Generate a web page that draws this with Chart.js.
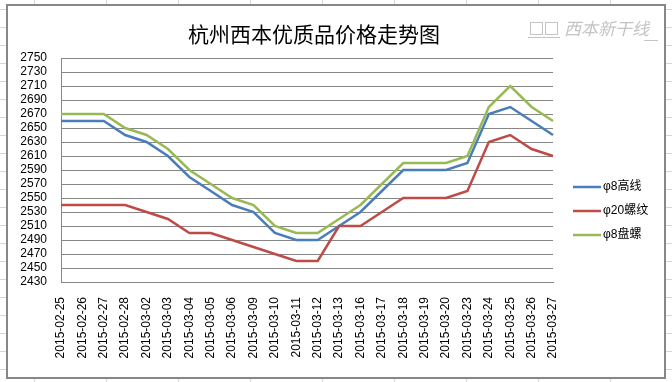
<!DOCTYPE html>
<html>
<head>
<meta charset="utf-8">
<script src="https://cdn.jsdelivr.net/npm/chart.js@4/dist/chart.umd.min.js"></script>
<style>
html,body{margin:0;padding:0;width:672px;height:382px;overflow:hidden;background:#fff;}
#grid{position:absolute;left:0;top:0;width:672px;height:382px;
 background-image:
  linear-gradient(to right, #d0d7e5 1px, transparent 1px),
  linear-gradient(to bottom, #d0d7e5 1px, transparent 1px);
 background-size:72px 18px;
 background-position:34px 9px;}
#box{position:absolute;left:6px;top:4px;width:660px;height:375px;box-sizing:border-box;border:2px solid #878787;background:#fff;}
#c{position:absolute;left:0;top:0;}
</style>
</head>
<body>
<div id="grid"></div>
<div id="box"></div>
<canvas id="c" width="672" height="382"></canvas>
<script>
const titleText = "杭州西本优质品价格走势图";
const watermarkText = "西本新干线";
const categories = ["2015-02-25","2015-02-26","2015-02-27","2015-02-28","2015-03-02","2015-03-03","2015-03-04","2015-03-05","2015-03-06","2015-03-09","2015-03-10","2015-03-11","2015-03-12","2015-03-13","2015-03-16","2015-03-17","2015-03-18","2015-03-19","2015-03-20","2015-03-23","2015-03-24","2015-03-25","2015-03-26","2015-03-27"];
const seriesNames = ["φ8高线","φ20螺纹","φ8盘螺"];
const wireRod = [2660,2660,2660,2640,2630,2610,2580,2560,2540,2530,2500,2490,2490,2510,2530,2560,2590,2590,2590,2600,2670,2680,2660,2640];
const rebar   = [2540,2540,2540,2540,2530,2520,2500,2500,2490,2480,2470,2460,2460,2510,2510,2530,2550,2550,2550,2560,2630,2640,2620,2610];
const coil    = [2670,2670,2670,2650,2640,2620,2590,2570,2550,2540,2510,2500,2500,2520,2540,2570,2600,2600,2600,2610,2680,2710,2680,2660];
const yTicks = [2430,2450,2470,2490,2510,2530,2550,2570,2590,2610,2630,2650,2670,2690,2710,2730,2750];
const colors = ["#4a7ebb","#be4b48","#98b954"];

const decor = {
  id:'decor',
  afterDraw(chart){
    const ctx = chart.ctx;
    ctx.save();
    // title
    ctx.fillStyle = '#000';
    ctx.font = '21px "Noto Sans CJK SC"';
    ctx.textAlign = 'center';
    ctx.textBaseline = 'middle';
    ctx.fillText(titleText, 314, 34);
    // watermark
    ctx.fillStyle = '#c4c4c4';
    ctx.font = 'italic 17px "Noto Sans CJK SC"';
    ctx.textAlign = 'left';
    ctx.fillText(watermarkText, 564, 29);
    ctx.strokeStyle = '#c4c4c4';
    ctx.lineWidth = 1;
    ctx.beginPath(); ctx.moveTo(644,40.5); ctx.lineTo(658,40.5); ctx.stroke();
    // small logo
    ctx.strokeRect(530.5, 22.5, 12, 12);
    ctx.strokeRect(545.5, 22.5, 12, 12);
    ctx.beginPath(); ctx.moveTo(528,37.5); ctx.lineTo(560,37.5); ctx.stroke();
    // legend
    ctx.font = '12px "Liberation Sans", "Noto Sans CJK SC"';
    const ys = [187, 211, 235];
    for (let i = 0; i < 3; i++) {
      ctx.strokeStyle = colors[i];
      ctx.lineWidth = 2.5;
      ctx.beginPath(); ctx.moveTo(573, ys[i]); ctx.lineTo(601, ys[i]); ctx.stroke();
      ctx.fillStyle = '#000';
      ctx.textBaseline = 'middle';
      ctx.fillText(seriesNames[i], 603, ys[i]);
    }
    ctx.restore();
  }
};

new Chart(document.getElementById('c'), {
  type: 'line',
  data: {
    labels: categories,
    datasets: [
      {label: seriesNames[0], data: wireRod, borderColor: colors[0], order: 3},
      {label: seriesNames[1], data: rebar, borderColor: colors[1], order: 2},
      {label: seriesNames[2], data: coil, borderColor: colors[2], order: 1}
    ].map(d => Object.assign(d, {borderWidth: 2.5, pointRadius: 0, tension: 0, fill: false}))
  },
  options: {
    responsive: false,
    animation: false,
    devicePixelRatio: 1,
    layout: {padding: {left: 0, top: 58, right: 119, bottom: 0}},
    plugins: {legend: {display: false}, title: {display: false}, tooltip: {enabled: false}},
    scales: {
      x: {
        offset: false,
        grid: {display: false, drawTicks: false},
        border: {display: true, color: '#868686', width: 1},
        ticks: {autoSkip: false, minRotation: 90, maxRotation: 90, padding: 15, color: '#000', font: {family: 'Liberation Sans', size: 12}},
        afterFit(s){ s.height = 100; }
      },
      y: {
        min: yTicks[0], max: yTicks[yTicks.length - 1],
        afterBuildTicks(s){ s.ticks = yTicks.map(v => ({value: v})); },
        grid: {color: '#868686', drawTicks: false, lineWidth: 1},
        border: {display: true, color: '#868686', width: 1},
        ticks: {autoSkip: false, padding: 14, color: '#000', font: {family: 'Liberation Sans', size: 12}, callback: v => String(v)},
        afterFit(s){ s.width = 61; }
      }
    }
  },
  plugins: [decor]
});
</script>
</body>
</html>
